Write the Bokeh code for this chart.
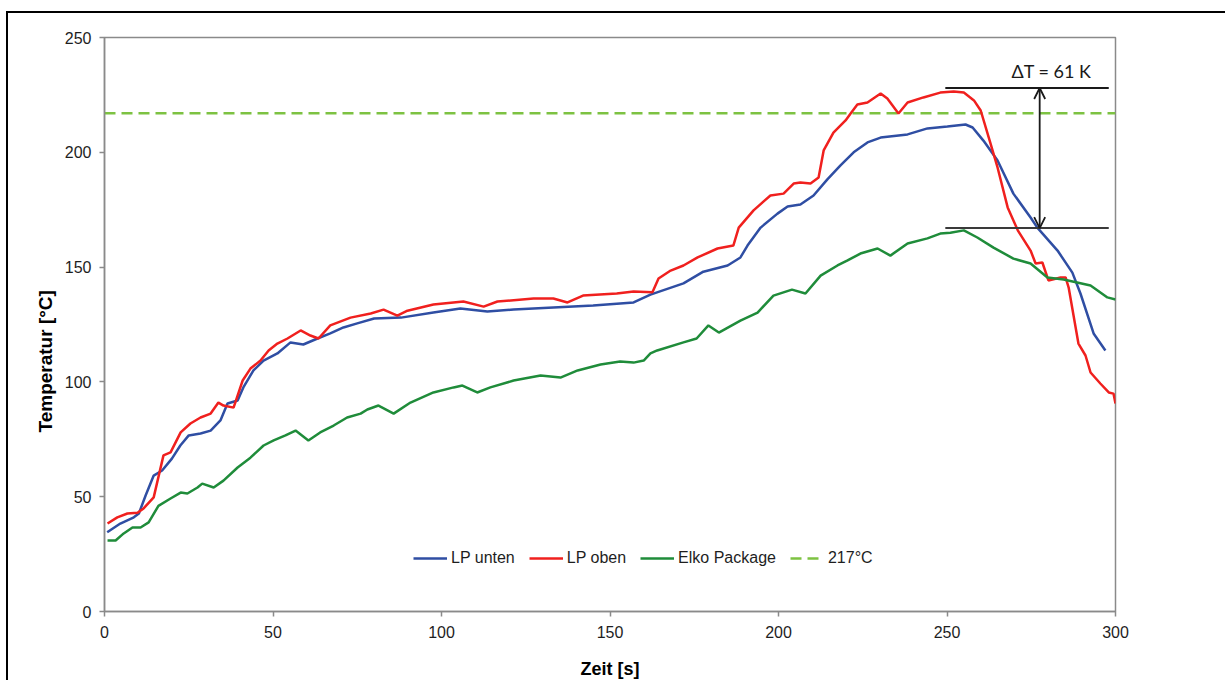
from bokeh.plotting import figure
from bokeh.models import Range1d, Legend, LegendItem, Arrow, OpenHead, Label, FixedTicker, Title
from bokeh.embed import file_html
from bokeh.resources import INLINE

# ---------------- data ----------------
X_START, X_END = 0, 300
Y_START, Y_END = 0, 250
X_TICKS = [0, 50, 100, 150, 200, 250, 300]
Y_TICKS = [0, 50, 100, 150, 200, 250]
X_TITLE = "Zeit [s]"
Y_TITLE = "Temperatur [°C]"

LP_UNTEN_X = [0.8, 4.7, 8.7, 10.2, 12.2, 14.6, 17.1, 20, 22.5, 25, 28.5, 31.5, 34.4, 36.5, 39.5,
              41.2, 44.2, 47.2, 51.3, 55.2, 59, 63.2, 67, 70.9, 75, 80, 88, 97.6, 105.6, 113.6,
              121.4, 133.2, 145, 157, 162, 171.8, 177.7, 184.9, 188.7, 190.8, 194.7, 199.7, 202.7,
              206.5, 210.4, 214.5, 218.4, 222.3, 226.4, 230.3, 238.3, 244.2, 250.1, 255.5, 257.6,
              260.8, 265, 269.7, 274.8, 276.8, 282.8, 287.2, 289.6, 293.5, 297]
LP_UNTEN_Y = [34.5, 38.3, 41, 42.7, 50.5, 59.2, 61.4, 66.6, 72.3, 76.7, 77.5, 78.8, 83.2, 90.6, 91.9,
              97.6, 105, 109.3, 112.4, 117.2, 116.3, 118.9, 121.1, 123.7, 125.5, 127.6, 128, 130.2, 132, 130.7,
              131.5, 132.4, 133.3, 134.6, 138, 142.9, 148, 150.7, 154.2, 159.4, 167.2, 173.3, 176.4,
              177.3, 181.2, 188.2, 194.3, 200, 204.3, 206.4, 207.8, 210.4, 211.2, 212.1, 210.8,
              205.1, 196.4, 182, 171.6, 167.2, 157.2, 147.6, 138.5, 121.1, 113.7]

LP_OBEN_X = [0.9, 3.8, 6.8, 9.8, 11.6, 14.6, 17.5, 19.6, 22.6, 25.5, 28.5, 31.5, 33.8, 35.3, 38.3,
             41, 43.3, 46.3, 48.7, 51.3, 54.3, 58.2, 61.1, 63.5, 67, 73, 79, 82.8, 86.9, 89.9,
             97.6, 106.5, 112.5, 116.6, 127.3, 133.2, 137.4, 142, 152, 157, 162.6, 164.4, 168, 171.8, 176,
             181.9, 186.6, 188.2, 192.6, 195.6, 197.6, 201.5, 204.5, 206.5, 209.5, 211.9, 213.4, 216.3,
             219.9, 221.4, 223.4, 226.4, 230.3, 232.3, 235.6, 238.3, 243, 248, 252, 255, 258, 260,
             262.4, 265, 268, 271, 274.8, 276.3, 278.3, 280.1, 283.7, 285.2, 286.1, 289, 291.1,
             292.6, 295.5, 298, 299.4, 300]
LP_OBEN_Y = [38.3, 41, 42.7, 43, 44.9, 49.7, 68, 69.3, 78, 81.9, 84.5, 86.2, 91, 89.7, 88.8,
             100.6, 105.8, 109.3, 113.7, 116.7, 118.9, 122.4, 120.2, 118.9, 124.6, 128, 129.8, 131.5, 128.9, 131,
             133.7, 135, 132.8, 135, 136.3, 136.3, 134.6, 137.6, 138.5, 139.4, 139, 145, 148.5, 150.7, 154.2,
             158.1, 159.4, 167.2, 174.7, 178.6, 181.2, 182, 186.4, 186.8, 186.4, 189, 200.8, 208.6,
             213.9, 216.9, 220.8, 221.7, 225.6, 223.4, 216.9, 221.7, 223.9, 226, 226.5, 226, 222.6, 218.2,
             206.4, 193.4, 176, 166, 157.2, 151.6, 152, 144.2, 145.5, 145.5, 141.1, 116.7, 111.5,
             104.1, 99.3, 95.4, 94.9, 90.6]

ELKO_X = [0.9, 3.3, 5.7, 8.3, 10.7, 13.1, 16, 19.6, 22.6, 24.6, 27.6, 29, 32.4, 35.3, 39.5,
          43.3, 47.2, 50.2, 53.7, 56.7, 60.5, 64, 68, 72, 76, 78, 81.3, 85.8, 90.8, 97.6,
          103.6, 106.2, 110.6, 114.5, 121.4, 129.4, 135.3, 140.4, 147.2, 153, 157, 160, 162, 164, 171.8,
          175.7, 179.2, 182.3, 188.7, 193.8, 198.5, 204, 208, 212.5, 217.5, 220.5, 224.3, 229.4, 233.2,
          238.3, 244.2, 248, 251, 255, 259, 263.8, 269.7, 274.8, 279.8, 284.6, 292.6, 297.6, 300]
ELKO_Y = [30.9, 30.9, 34, 36.6, 36.6, 38.8, 46, 49.2, 51.8, 51.4, 54, 55.7, 54, 57, 62.7,
          67, 72.3, 74.5, 76.7, 78.8, 74.5, 78, 81, 84.5, 86.2, 88, 89.7, 86.2, 91, 95.4,
          97.6, 98.4, 95.4, 97.6, 100.6, 102.8, 101.9, 105, 107.6, 108.9, 108.4, 109.3, 112.4, 113.7, 117.2,
          118.9, 124.6, 121.5, 126.7, 130.2, 137.6, 140.2, 138.5, 146.3, 150.7, 152.9, 155.9, 158.1, 155,
          160.3, 162.5, 164.6, 165, 166, 162.9, 158.5, 153.7, 151.6, 145.5, 144.6, 142, 136.8, 135.9]

T_REF = 217
SERIES_NAMES = ["LP unten", "LP oben", "Elko Package", "217°C"]

DT_TOP = 228
DT_BOTTOM = 167
DT_X = 277.5
DT_LINE_X = [249.5, 298]
DT_TEXT = "ΔT = 61 K"
DT_TEXT_POS = (281, 235.5)

# ---------------- figure ----------------
p = figure(width=1219, height=669,
           x_range=Range1d(X_START, X_END), y_range=Range1d(Y_START, Y_END),
           output_backend="svg", toolbar_location=None,
           min_border_left=96, min_border_right=112, min_border_top=24, min_border_bottom=71)
p.styles = {"border-left": "2px solid black", "border-top": "2px solid black",
            "margin-left": "6px", "margin-top": "11px"}
p.background_fill_color = "white"
p.border_fill_color = "white"
p.xgrid.visible = False
p.ygrid.visible = False
p.outline_line_color = "#8a8a8a"
p.outline_line_width = 1.5

AXIS_COLOR = "#8a8a8a"
for ax in (p.xaxis[0], p.yaxis[0]):
    ax.axis_line_color = AXIS_COLOR
    ax.axis_line_width = 1.5
    ax.major_tick_line_color = AXIS_COLOR
    ax.major_tick_line_width = 1.5
    ax.major_tick_out = 5
    ax.major_tick_in = 0
    ax.minor_tick_line_color = None
    ax.major_label_text_font = "Liberation Sans"
    ax.major_label_text_font_size = "16px"
    ax.major_label_text_color = "#1e1e1e"
    ax.axis_label_text_font = "Liberation Sans"
    ax.axis_label_text_font_style = "bold"
    ax.axis_label_text_font_size = "18px"
    ax.axis_label_text_color = "#000000"

p.xaxis.ticker = FixedTicker(ticks=X_TICKS)
p.yaxis.ticker = FixedTicker(ticks=Y_TICKS)
p.xaxis.axis_label = X_TITLE
p.xaxis.major_label_standoff = 9
p.yaxis.major_label_standoff = 8
p.xaxis.axis_label_standoff = 18

# y-axis title in a side panel (sits lower than the frame centre, as in the original)
p.add_layout(Title(text=Y_TITLE, align="left", offset=179, standoff=12,
                   text_font="Liberation Sans", text_font_style="bold",
                   text_font_size="19px", text_color="#000000"), "left")

r_ref = p.line(x=[X_START, X_END], y=[T_REF, T_REF], line_color="#7dc242", line_width=2.5,
               line_dash="11 6")
r_unten = p.line(LP_UNTEN_X, LP_UNTEN_Y, line_color="#2f4ea3", line_width=2.5)
r_oben = p.line(LP_OBEN_X, LP_OBEN_Y, line_color="#f0201e", line_width=2.5)
r_elko = p.line(ELKO_X, ELKO_Y, line_color="#1f8c3a", line_width=2.5)

# delta T annotation
p.line(x=DT_LINE_X, y=[DT_TOP, DT_TOP], line_color="#1a1a1a", line_width=2)
p.line(x=DT_LINE_X, y=[DT_BOTTOM, DT_BOTTOM], line_color="#3a3a3a", line_width=2)
p.add_layout(Arrow(x_start=DT_X, y_start=DT_BOTTOM, x_end=DT_X, y_end=DT_TOP,
                   line_color="#1a1a1a", line_width=1.8,
                   start=OpenHead(size=11, line_color="#1a1a1a", line_width=1.8),
                   end=OpenHead(size=11, line_color="#1a1a1a", line_width=1.8)))
p.add_layout(Label(x=DT_TEXT_POS[0], y=DT_TEXT_POS[1], text=DT_TEXT, text_font="Lato",
                   text_font_size="18px", text_align="center", text_baseline="middle",
                   text_color="#1a1a1a"))

legend = Legend(items=[LegendItem(label=SERIES_NAMES[0], renderers=[r_unten]),
                       LegendItem(label=SERIES_NAMES[1], renderers=[r_oben]),
                       LegendItem(label=SERIES_NAMES[2], renderers=[r_elko]),
                       LegendItem(label=SERIES_NAMES[3], renderers=[r_ref])],
                orientation="horizontal", location=(309, 43),
                border_line_color=None, background_fill_alpha=0,
                padding=0, margin=0, spacing=14, glyph_width=34, label_standoff=4,
                label_text_font="Liberation Sans", label_text_font_size="16px",
                label_text_color="#1e1e1e")
p.add_layout(legend)

open("out.html", "w").write(file_html(p, INLINE))
